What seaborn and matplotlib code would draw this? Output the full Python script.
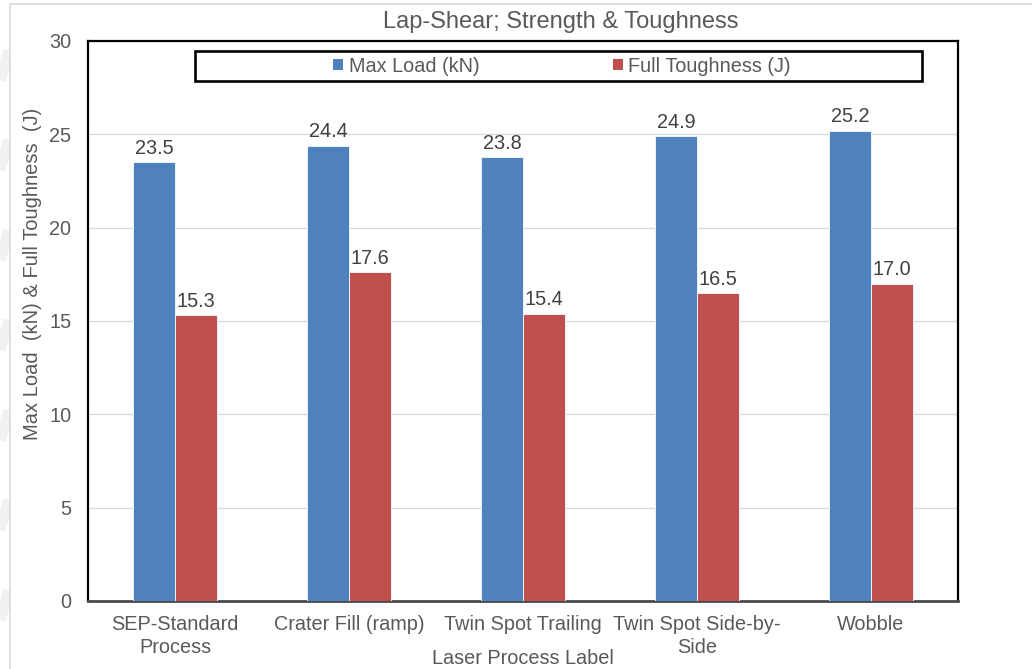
import matplotlib
matplotlib.use("Agg")
import matplotlib.pyplot as plt
from matplotlib.patches import Rectangle, Patch
from matplotlib.lines import Line2D
import numpy as np
import pandas as pd
import seaborn as sns

# --- data -------------------------------------------------------------
processes = ["SEP-Standard\nProcess", "Crater Fill (ramp)", "Twin Spot Trailing",
             "Twin Spot Side-by-\nSide", "Wobble"]
max_load_kn = [23.5, 24.4, 23.8, 24.9, 25.2]
full_toughness_j = [15.3, 17.6, 15.4, 16.5, 17.0]
series_names = ["Max Load (kN)", "Full Toughness (J)"]
y_ticks = [0, 5, 10, 15, 20, 25, 30]

df = pd.DataFrame({
    "process": processes * 2,
    "value": max_load_kn + full_toughness_j,
    "series": [series_names[0]] * len(processes) + [series_names[1]] * len(processes),
})

BLUE = "#4F81BD"
RED = "#C0504D"
TEXT = "#595959"

sns.set_theme(style="white")
plt.rcParams["font.family"] = ["Liberation Sans", "DejaVu Sans"]

W, H = 1032, 669
fig = plt.figure(figsize=(W / 100, H / 100), dpi=100)
fig.patch.set_facecolor("white")

# faint diagonal stripes in the left margin
strip = fig.add_axes([0, 0, 9 / W, 1])
strip.set_xlim(0, 9)
strip.set_ylim(H, 0)
strip.axis("off")
for y0 in range(-40, H + 80, 90):
    strip.plot([0, 9], [y0 + 30, y0], color="#f1f1f1", lw=8, solid_capstyle="butt")

# light outer border of the chart area
fig.add_artist(Line2D([9.5 / W, 9.5 / W], [0, 1 - 4 / H], color="#d9d9d9", lw=1.2))
fig.add_artist(Line2D([9.5 / W, 1], [1 - 4 / H, 1 - 4 / H], color="#d9d9d9", lw=1.2))

ax = fig.add_axes([88 / W, 1 - 601 / H, (958 - 88) / W, (601 - 41) / H])

sns.barplot(data=df, x="process", y="value", hue="series", hue_order=series_names,
            palette=[BLUE, RED], width=0.48, gap=0, errorbar=None,
            edgecolor="#eef2f8", linewidth=0.7, saturation=1, ax=ax, zorder=3)

for cont in ax.containers:
    ax.bar_label(cont, fmt="%.1f", padding=3, fontsize=14.3, color="#404040")

ax.set_ylim(0, 30)
ax.set_yticks(y_ticks)
ax.yaxis.grid(True, color="#D9D9D9", lw=0.9, zorder=0)
ax.set_axisbelow(True)
ax.tick_params(axis="both", length=0, labelsize=14.3, labelcolor=TEXT)
ax.tick_params(axis="x", pad=10)
ax.tick_params(axis="y", pad=12)
for lbl in ax.get_xticklabels():
    lbl.set_linespacing(1.3)

for side in ["left", "top", "right"]:
    ax.spines[side].set_color("black")
    ax.spines[side].set_linewidth(1.6)
ax.spines["bottom"].set_color("#4a4a4a")
ax.spines["bottom"].set_linewidth(2.0)

ax.set_xlabel("Laser Process Label", fontsize=14.3, color=TEXT)
ax.xaxis.set_label_coords(0.5, -0.085)
ax.set_ylabel("Max Load  (kN) & Full Toughness  (J)", fontsize=14.5, color=TEXT)
ax.yaxis.set_label_coords(-0.053, 0.584)

# legend
leg = ax.get_legend()
if leg is not None:
    leg.remove()
handles = [Patch(facecolor=BLUE, edgecolor="none"), Patch(facecolor=RED, edgecolor="none")]
ax.legend(handles, series_names, loc="center", ncol=2, frameon=False,
          bbox_to_anchor=(562 / W, 1 - 66 / H), bbox_transform=fig.transFigure,
          fontsize=14.3, labelcolor=TEXT, handlelength=0.5, handleheight=0.5,
          handletextpad=0.3, columnspacing=6.7, borderpad=0, borderaxespad=0)
fig.add_artist(Rectangle((195 / W, 1 - 81 / H), 727 / W, 30 / H, fill=False,
                         edgecolor="black", lw=1.9, transform=fig.transFigure, zorder=5))

fig.text(561 / W, 1 - 22 / H, "Lap-Shear; Strength & Toughness", ha="center", va="center",
         fontsize=17, color=TEXT)

fig.savefig("out.png", dpi=100)
